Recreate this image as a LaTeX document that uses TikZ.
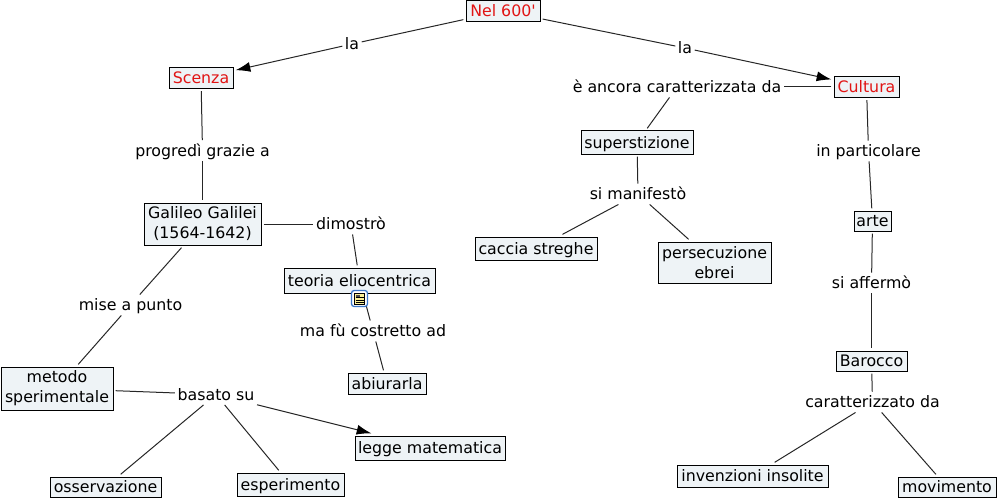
\documentclass[tikz,border=0pt]{standalone}
\usepackage{fontspec}
\setmainfont{DejaVu Sans}
\usepackage{xcolor}
\usetikzlibrary{arrows.meta,calc,positioning}
\definecolor{boxfill}{RGB}{238,243,246}
\definecolor{toptext}{RGB}{225,20,20}
\definecolor{iconblue}{RGB}{60,120,200}
\definecolor{iconpage}{RGB}{250,240,150}
\tikzset{
    mapfont/.style={font=\fontsize{11.85}{15}\selectfont},
    oneline/.style={text height=10.2pt,text depth=1.5pt},
    concept/.style={draw=black,line width=0.75pt,fill=boxfill,inner sep=0pt,outer sep=2pt,align=center,mapfont},
    toptopic/.style={concept,oneline,text=toptext},
    linklabel/.style={inner sep=1pt,outer sep=1pt,oneline,mapfont},
    maplink/.style={draw=black!85,line width=0.75pt},
    maparrow/.style={maplink,-{Latex[length=11pt,width=7.5pt,black]}}
}
\begin{document}
\begin{tikzpicture}[x=0.75pt,y=-0.75pt]
    \useasboundingbox (0,0) rectangle (998,499);
    % concepts
    \foreach \name/\x/\y/\w/\h/\txt in {
        scenza/201/78/64/21/Scenza,
        nel/503/11/74/21/{Nel 600\textquotesingle},
        cultura/866.5/87/65/21/Cultura} {
        \node[toptopic,minimum width=\w*0.75pt,minimum height=\h*0.75pt] (\name) at (\x,\y) {\txt};
    }
    \foreach \name/\x/\y/\w/\h/\txt in {
        superstizione/637/142.5/112/23/superstizione,
        teoria/359.5/280.5/151/25/teoria eliocentrica,
        caccia/536/248.5/122/23/caccia streghe,
        arte/872.5/221/37/20/arte,
        barocco/871.5/361/71/20/Barocco,
        abiurarla/387/383.5/78/21/abiurarla,
        osservazione/105.5/487/111/20/osservazione,
        esperimento/290.5/484.5/107/23/esperimento,
        legge/430/448/150/24/legge matematica,
        invenzioni/752.5/476/151/22/invenzioni insolite,
        movimento/947/487/98/20/movimento} {
        \node[concept,oneline,minimum width=\w*0.75pt,minimum height=\h*0.75pt] (\name) at (\x,\y) {\txt};
    }
    \foreach \name/\x/\y/\w/\h/\txt in {
        galileo/202.5/224/117/42/{Galileo Galilei\\(1564-1642)},
        persecuzione/714.5/262.5/113/41/{persecuzione\\ebrei},
        metodo/57/388.5/112/43/{metodo\\sperimentale}} {
        \node[concept,minimum width=\w*0.75pt,minimum height=\h*0.75pt] (\name) at (\x,\y) {\txt};
    }
    % linking phrases
    \foreach \name/\x/\y/\txt in {
        laleft/352/44/la,
        laright/685/48/la,
        ancora/677/87/è ancora caratterizzata da,
        progredi/202.5/150.5/progredì grazie a,
        dimostro/351/224/dimostrò,
        mise/130.5/305/mise a punto,
        costretto/373/331/ma fù costretto ad,
        basato/216/394.5/basato su,
        manifesto/638/194/si manifestò,
        particolare/868.5/151/in particolare,
        afferma/871.5/283/si affermò,
        caratterizzato/872.5/402/caratterizzato da} {
        \node[linklabel] (\name) at (\x,\y) {\txt};
    }
    % connectors
    \foreach \from/\to in {
        nel/laleft,nel/laright,
        scenza/progredi,progredi/galileo,
        galileo/dimostro,dimostro/teoria,
        galileo/mise,mise/metodo,
        teoria/costretto,costretto/abiurarla,
        metodo/basato,basato/osservazione,basato/esperimento,
        cultura/ancora,ancora/superstizione,
        superstizione/manifesto,manifesto/caccia,manifesto/persecuzione,
        cultura/particolare,particolare/arte,
        arte/afferma,afferma/barocco,
        barocco/caratterizzato,caratterizzato/invenzioni,caratterizzato/movimento} {
        \draw[maplink] (\from) -- (\to);
    }
    \foreach \from/\to in {laleft/scenza,laright/cultura,basato/legge} {
        \draw[maparrow] (\from) -- (\to);
    }
    % note icon under the theory box
    \node[draw=iconblue,line width=1pt,rounded corners=2pt,fill=white,minimum size=12pt,inner sep=0pt] (icon) at (359.5,298.5) {};
    \fill[iconpage,draw=black,line width=0.4pt] ($(icon.center)+(-5,-5)$) rectangle ($(icon.center)+(5,5.5)$);
    \foreach \dy in {-1,1.5,4} {
        \draw[line width=0.5pt] ($(icon.center)+(-4,\dy)$) -- ($(icon.center)+(4,\dy)$);
    }
    \fill[black!70] ($(icon.center)+(-4,-4)$) rectangle ($(icon.center)+(0,-1.5)$);
\end{tikzpicture}
\end{document}
